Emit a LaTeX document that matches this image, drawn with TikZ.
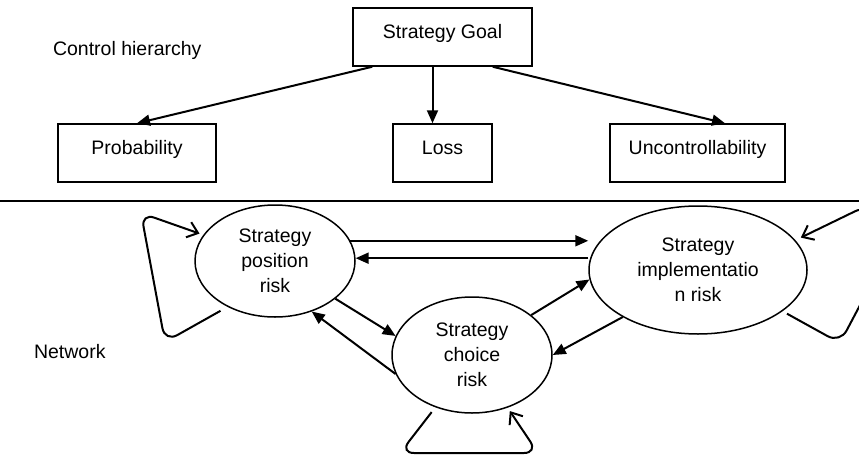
\documentclass[tikz,border=0pt]{standalone}
\usepackage{fontspec}
\setmainfont{Liberation Sans}
\usetikzlibrary{arrows.meta,shapes.geometric}
\begin{document}
\begin{tikzpicture}[
        x=1pt, y=-1pt,
        font=\fontsize{19.5}{25}\selectfont,
        -{Triangle[length=13pt,width=11pt]},
        line width=2pt,
        factor/.style ={draw, rectangle, line width=1.5pt, minimum height=58pt, inner sep=0pt, text height=14pt, text depth=11pt},
        risk/.style ={draw, ellipse, line width=1.5pt, inner sep=0pt, align=center},
        caption/.style ={anchor=west, inner sep=0pt},
        selfloop/.style ={-{Straight Barb[length=10pt,width=16pt]}, rounded corners=14pt},
    ]
    \useasboundingbox (0,0) rectangle (859,455);
    \clip (0,0) rectangle (859,455);

    % control hierarchy
    \node[caption] (ctrl) at (52,50) {Control hierarchy};
    \node[factor, minimum width=179pt] (goal) at (442.5,37) {Strategy Goal};
    \node[factor, minimum width=158pt] (prob) at (137,153) {Probability};
    \node[factor, minimum width=99pt] (loss) at (442.5,153) {Loss};
    \node[factor, minimum width=175pt] (unc) at (697.5,153) {Uncontrollability};

    \draw ([xshift=20pt]goal.south west) -- (prob.north);
    \draw ([xshift=-10pt]goal.south) -- ([xshift=-10pt]loss.north);
    \draw ([xshift=-40pt]goal.south east) -- ([xshift=27.5pt]unc.north);

    \draw[-, line width=1.5pt] (0,201) -- (859,201);

    % network
    \node[caption] (net) at (33,352) {Network};
    \node[risk, minimum width=160pt, minimum height=112pt] (pos) at (275,261) {Strategy\\position\\risk};
    \node[risk, minimum width=218pt, minimum height=128pt] (impl) at (698,270) {Strategy\\implementatio\\n risk};
    \node[risk, minimum width=160pt, minimum height=116pt] (choice) at (472,355) {Strategy\\choice\\risk};

    \draw (pos.15) -- (pos.15 -| impl.west);
    \draw (impl.west |- pos.2) -- (pos.2);
    \draw (pos.-32) -- (choice.166);
    \draw (choice.194) -- (pos.-54);
    \draw (choice.34) -- (impl.185);
    \draw (impl.212) -- (choice.0);

    \draw[selfloop, shorten <=8pt, shorten >=4pt] (pos.224) -- (165,342) -- (141,213) -- (pos.160);
    \draw[selfloop, shorten <=6pt, shorten >=4pt] (choice.235) -- (400,453) -- (538,453) -- (choice.-56);
    \draw[selfloop, shorten <=5pt, shorten >=6pt] (impl.-26) -- (840,343) -- (868,290) -- (868,205) -- (impl.17);
\end{tikzpicture}
\end{document}
